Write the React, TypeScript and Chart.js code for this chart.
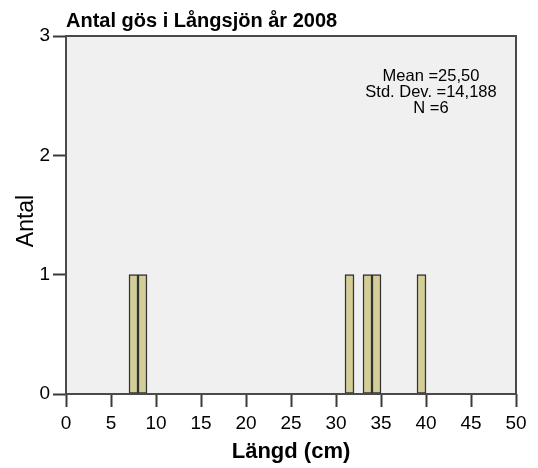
import React, { useEffect, useRef } from "react";
import { Chart, registerables } from "chart.js";

Chart.register(...registerables);

const chartTitle = "Antal gös i Långsjön år 2008";
const xAxisTitle = "Längd (cm)";
const yAxisTitle = "Antal";
const binStarts = [7, 8, 31, 33, 34, 39];
const binCounts = [1, 1, 1, 1, 1, 1];
const binWidth = 1;
const xTickValues = [0, 5, 10, 15, 20, 25, 30, 35, 40, 45, 50];
const yTickValues = [0, 1, 2, 3];
const statLines = ["Mean =25,50", "Std. Dev. =14,188", "N =6"];

const FONT = "'Liberation Sans', Arial, sans-serif";

export default function App() {
  const ref = useRef<HTMLCanvasElement>(null);

  useEffect(() => {
    const canvas = ref.current!;
    const decor = {
      id: "decor",
      beforeDraw(chart: any) {
        const { ctx, chartArea: a } = chart;
        ctx.save();
        ctx.fillStyle = "#F0F0F0";
        ctx.fillRect(a.left, a.top, a.right - a.left, a.bottom - a.top);
        ctx.restore();
      },
      afterDraw(chart: any) {
        const { ctx, chartArea: a } = chart;
        ctx.save();
        ctx.strokeStyle = "#4a4a4a";
        ctx.lineWidth = 2;
        ctx.strokeRect(a.left, a.top, a.right - a.left, a.bottom - a.top);
        ctx.fillStyle = "#000";
        ctx.font = `bold 20px ${FONT}`;
        ctx.textAlign = "left";
        ctx.textBaseline = "alphabetic";
        ctx.fillText(chartTitle, 66, 27);
        ctx.font = `16.5px ${FONT}`;
        ctx.textAlign = "center";
        statLines.forEach((s, i) => ctx.fillText(s, 431, 81 + i * 16));
        ctx.translate(27, 221);
        ctx.rotate(-Math.PI / 2);
        ctx.font = `23px ${FONT}`;
        ctx.textBaseline = "middle";
        ctx.fillText(yAxisTitle, 0, 0);
        ctx.restore();
      },
    };

    const chart = new Chart(canvas, {
      type: "bar",
      data: {
        datasets: [
          {
            data: binStarts.map((s, i) => ({ x: s + binWidth / 2, y: binCounts[i] })),
            backgroundColor: "#D3CE97",
            borderColor: "#333333",
            borderWidth: 1.5,
            borderSkipped: false,
            barPercentage: 1,
            categoryPercentage: 1,
          },
        ],
      },
      options: {
        animation: false,
        responsive: false,
        devicePixelRatio: 1,
        layout: { padding: { top: 36, right: 22, left: 0, bottom: 0 } },
        plugins: { legend: { display: false }, tooltip: { enabled: false }, title: { display: false } },
        scales: {
          x: {
            type: "linear",
            min: 0,
            max: 50,
            offset: false,
            afterBuildTicks: (s: any) => {
              s.ticks = xTickValues.map((v) => ({ value: v }));
            },
            afterFit: (s: any) => {
              s.height = 74;
            },
            grid: {
              display: true,
              offset: false,
              drawOnChartArea: false,
              drawTicks: true,
              tickLength: 13,
              tickColor: "#3a3a3a",
              tickWidth: 2,
            },
            border: { display: false },
            ticks: {
              color: "#000",
              padding: 5,
              maxRotation: 0,
              autoSkip: false,
              font: { family: FONT, size: 19 },
            },
            title: {
              display: true,
              text: xAxisTitle,
              color: "#000",
              font: { family: FONT, size: 22, weight: "bold" },
              padding: { top: 0, bottom: 3 },
            },
          },
          y: {
            min: 0,
            max: 3,
            afterBuildTicks: (s: any) => {
              s.ticks = yTickValues.map((v) => ({ value: v }));
            },
            afterFit: (s: any) => {
              s.width = 66;
            },
            grid: {
              display: true,
              drawOnChartArea: false,
              drawTicks: true,
              tickLength: 13,
              tickColor: "#3a3a3a",
              tickWidth: 2,
            },
            border: { display: false },
            ticks: {
              color: "#000",
              padding: 3,
              font: { family: FONT, size: 19 },
            },
          },
        },
      },
      plugins: [decor],
    });
    return () => chart.destroy();
  }, []);

  return (
    <div style={{ position: "fixed", left: 0, top: 0, width: 538, height: 468, background: "#fff" }}>
      <canvas ref={ref} width={538} height={468} />
    </div>
  );
}
